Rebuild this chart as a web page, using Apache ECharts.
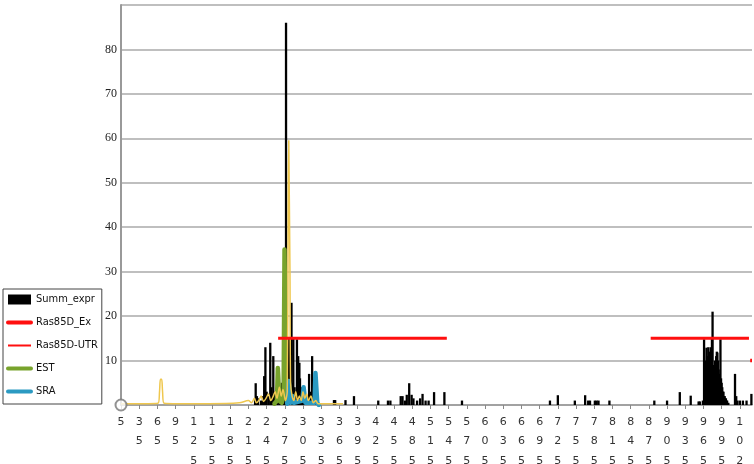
<!DOCTYPE html>
<html>
<head>
<meta charset="utf-8">
<script src="https://cdn.jsdelivr.net/npm/echarts@6/dist/echarts.min.js"></script>
<style>
html,body{margin:0;padding:0;background:#fff;}
#c{width:754px;height:464px;}
</style>
</head>
<body>
<div id="c"></div>
<script>
// x tick labels (positions)
const tickLabels = [5,35,65,95,125,155,185,215,245,275,305,335,365,395,425,455,485,515,545,575,605,635,665,695,725,755,785,815,845,875,905,935,965,995,1025];

// Summ_expr (black bars)
const summPos = [226,227,229,231,236,239,241,243,245,248,251,253,256,258,261,263,266,268,270,272,274,277,279,281,282,284,286,287,289,291,293,295,297,299,300,302,304,306,308,310,315,317,320,322,324,327,
356,357,358,375,389,429,445,449,466,469,473,476,480,484,487,493,498,502,507,512,521,538,567,712,725,753,770,775,778,786,789,792,810,884,905,926,944,957,959,
964,966,967,968,969,970,971,972,973,974,975,976,977,978,979,980,981,982,983,984,985,986,987,988,989,990,991,992,993,994,995,996,997,998,999,1000,1001,1002,1003,1004,1006,
1017,1019,1021,1025,1030,1036,1044];
const summVal = [1,4.9,2,1.5,1,2,6.5,13,3,2,14,4,11,3,2,1.5,4,3,5,4,3,86,6,3,15,2,23,5,15,4,3,14.8,11,9.5,6,4,2,3,1.5,2,7,3,11,5,2,1,
1.1,1.1,1.1,1.1,2,1,1,1,2,2,1,2.3,4.9,2.3,1.5,1,1.5,2.5,1,1,2.9,2.9,1,1,2.2,1,2.2,1,1,1,1,1,1,1,1,2.9,2.1,0.8,0.8,
1,14.8,3,7,10,12.9,11,8,13,5,9,12,13,11,15,21,9,6,8,10,9,11,12,11.8,10,8,7,6,14.8,6,5,4,3,3,2,2,1.5,1.5,1,1,0.5,
7,2,1,1,1,1,2.5];

// EST (green)
const estPos = [258,262,263.5,264.5,266,270,273,274.5,275.5,277,280];
const estVal = [0.3,1,8.3,8.3,1,0.5,2,35,35,2,0.5];

// SRA (blue)
const sraPos = [279,281.5,283,284.5,288,290,304,306,307.5,309,324,325.5,327,328.5,331];
const sraVal = [0.3,5.4,5.4,0.5,2,0.5,1,4,4,0.5,0.5,7.2,7.2,0.5,0];

// yellow trace (not in legend)
const yelPos = [5,40,66,68.5,70,72,73.5,76,100,150,200,215,220,225,228,232,236,240,244,248,252,256,259,262,266,269,272,276,279,280.5,281.5,282.5,283.5,284.5,287,290,293,296,299,302,305,308,311,314,318,322,326,330,360,371];
const yelVal = [0.3,0.3,0.4,3,5.8,5.8,3,0.4,0.3,0.3,0.5,1,0.5,1.5,0.5,1,2,0.8,1.5,2.5,1,2,3,1.5,4,2,3.5,1,3,43,59.5,59.5,30,5,2,1,3,1,2,1,3,1.5,2.5,1,2,0.5,1,0.3,0.3,0.3];

// Ras85D_Ex (thick red)
const exPos = [264,542,710,878,1040];
const exVal = [15,15,'-',15,15];

// Ras85D-UTR
const utrPos = [1042,1045];
const utrVal = [10,10];

const pairs = (p, v) => p.map((x, i) => [x, v[i]]);
const noSym = {color: 'rgba(0,0,0,0)', borderWidth: 0, opacity: 0};

const chart = echarts.init(document.getElementById('c'));
chart.setOption({
  animation: false,
  backgroundColor: '#fff',
  grid: {left: 121, right: 2, top: 5, bottom: 59, containLabel: false, outerBoundsMode: 'none'},
  legend: {
    orient: 'vertical',
    left: 3,
    top: 289,
    padding: [5, 4, 7, 3],
    itemWidth: 23,
    itemHeight: 10,
    itemGap: 12,
    borderColor: '#444',
    borderWidth: 1,
    backgroundColor: '#fff',
    textStyle: {fontFamily: "'DejaVu Sans Condensed','Liberation Sans Narrow','DejaVu Sans'", fontSize: 11, color: '#111'},
    data: [
      {name: 'Summ_expr', icon: 'rect'},
      {name: 'Ras85D_Ex', lineStyle: {width: 4, cap: 'round'}, itemStyle: noSym},
      {name: 'Ras85D-UTR', lineStyle: {width: 2}, itemStyle: noSym},
      {name: 'EST', lineStyle: {width: 4, cap: 'round'}, itemStyle: noSym},
      {name: 'SRA', lineStyle: {width: 4, cap: 'round'}, itemStyle: noSym}
    ]
  },
  xAxis: {
    type: 'value',
    min: 5,
    max: 1045,
    splitLine: {show: false},
    axisLine: {lineStyle: {color: '#999', width: 1.5}},
    axisTick: {show: true, customValues: tickLabels, length: 4, lineStyle: {color: '#888'}},
    axisLabel: {
      customValues: tickLabels,
      margin: 7,
      fontFamily: 'DejaVu Sans',
      fontSize: 11,
      lineHeight: 19.5,
      color: '#333',
      formatter: v => String(v).split('').join('\n')
    }
  },
  yAxis: {
    type: 'value',
    min: 0,
    max: 90,
    interval: 10,
    axisLine: {show: true, lineStyle: {color: '#999', width: 2}},
    axisTick: {show: false},
    splitLine: {lineStyle: {color: '#aaa', width: 1.5}},
    axisLabel: {
      margin: 4,
      fontFamily: "'Liberation Serif','DejaVu Serif'",
      fontSize: 12,
      color: '#222',
      formatter: v => (v === 0 || v === 90) ? '' : String(v)
    }
  },
  series: [
    {name: 'Summ_expr', type: 'bar', barWidth: 2.3, itemStyle: {color: '#000'}, data: pairs(summPos, summVal), z: 2},
    {name: 'EST', type: 'line', symbol: 'none', showSymbol: false, lineStyle: {color: '#78A32C', width: 4.5, cap: 'round', join: 'round'}, itemStyle: {color: '#78A32C'}, data: pairs(estPos, estVal), z: 3},
    {name: 'SRA', type: 'line', symbol: 'none', showSymbol: false, lineStyle: {color: '#2B9AC2', width: 4.5, cap: 'round', join: 'round'}, itemStyle: {color: '#2B9AC2'}, data: pairs(sraPos, sraVal), z: 3},
    {name: 'Trace', type: 'line', symbol: 'none', showSymbol: false, smooth: 0.3, lineStyle: {color: '#EFC74E', width: 1.5}, itemStyle: {color: '#EFC74E'}, data: pairs(yelPos, yelVal), z: 4},
    {name: 'Ras85D_Ex', type: 'line', symbol: 'none', showSymbol: false, connectNulls: false, lineStyle: {color: '#FF0F0F', width: 3}, itemStyle: {color: '#FF0F0F'}, data: pairs(exPos, exVal), z: 5},
    {name: 'Ras85D-UTR', type: 'line', symbol: 'none', showSymbol: false, lineStyle: {color: '#FF0F0F', width: 3.5}, itemStyle: {color: '#FF0F0F'}, data: pairs(utrPos, utrVal), z: 5},
    {name: 'origin', type: 'scatter', symbol: 'emptyCircle', symbolSize: 11, clip: false, itemStyle: {color: '#777', borderColor: '#777', borderWidth: 2}, data: [[5, 0]], z: 10, silent: true}
  ]
});
</script>
</body>
</html>
